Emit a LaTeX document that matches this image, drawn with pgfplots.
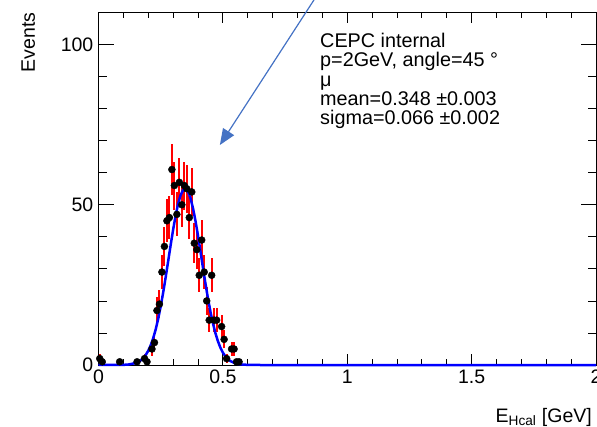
\documentclass[border=0pt]{standalone}
\usepackage{pgfplots}
\usepackage{pgfplotstable}
\pgfplotsset{compat=1.18}
\usepackage{fontspec}
\setmainfont{Liberation Sans}
\usetikzlibrary{arrows.meta}
\definecolor{arrowblue}{RGB}{68,114,196}

\pgfplotstableread{
x y e
0.005 2 1.41
0.015 1 1.00
0.085 1 1.00
0.155 1 1.00
0.185 2 1.41
0.195 1 1.00
0.215 5 2.24
0.225 7 2.65
0.235 17 4.12
0.245 19 4.36
0.255 29 5.39
0.265 37 6.08
0.275 45 6.71
0.285 46 6.78
0.295 61 7.81
0.305 56 7.48
0.315 47 6.86
0.325 57 7.55
0.335 50 7.07
0.345 56 7.48
0.355 55 7.42
0.365 46 6.78
0.375 54 7.35
0.385 38 6.16
0.395 36 6.00
0.405 28 5.29
0.415 39 6.24
0.425 29 5.39
0.435 20 4.47
0.445 14 3.74
0.455 28 5.29
0.465 14 3.74
0.475 14 3.74
0.495 12 3.46
0.505 8 2.83
0.515 2 1.41
0.535 5 2.24
0.545 5 2.24
0.555 1 1.00
0.565 1 1.00
}\datatable

\pgfplotstableread{
x y
0.00 0
0.10 0.05
0.12 0.14
0.15 0.61
0.16 0.95
0.17 1.45
0.18 2.16
0.19 3.13
0.20 4.45
0.21 6.18
0.22 8.39
0.23 11.13
0.24 14.42
0.25 18.27
0.26 22.61
0.27 27.36
0.28 32.35
0.29 37.38
0.30 42.22
0.31 46.60
0.32 50.26
0.33 52.99
0.34 54.60
0.348 55.00
0.35 54.97
0.36 54.10
0.37 52.03
0.38 48.90
0.39 44.92
0.40 40.33
0.41 35.38
0.42 30.34
0.43 25.42
0.44 20.82
0.45 16.66
0.46 13.04
0.47 9.96
0.48 7.44
0.49 5.43
0.50 3.88
0.51 2.71
0.52 1.84
0.53 1.23
0.55 0.51
0.57 0.19
0.60 0.04
0.65 0
2.00 0
}\fittable

\begin{document}
\begin{tikzpicture}
\begin{axis}[
  name=ax,
  scale only axis,
  width=497.5bp, height=352.5bp,
  xmin=0, xmax=2, ymin=0, ymax=110,
  xtick={0,0.5,1,1.5,2},
  xticklabels={0,0.5,1,1.5,2},
  ytick={0,50,100},
  yticklabels={0,50,100},
  minor x tick num=4,
  minor y tick num=4,
  tick align=inside,
  clip=false,
  axis line style={black, line width=0.8bp},
  every tick/.style={black, line width=0.8bp},
  every major x tick/.append style={/pgfplots/major tick length=11bp},
  every minor x tick/.append style={/pgfplots/minor tick length=6bp},
  every major y tick/.append style={/pgfplots/major tick length=15bp},
  every minor y tick/.append style={/pgfplots/minor tick length=8bp},
  major tick length=13bp,
  minor tick length=7bp,
  tick label style={font=\fontsize{19.5bp}{23bp}\selectfont},
  xticklabel style={inner sep=2bp, yshift=-3bp},
  yticklabel style={inner sep=2bp, xshift=-3bp},
  /pgf/number format/assume math mode=true,
]
\addplot[draw=none, mark=none, forget plot,
  error bars/.cd, y dir=both, y explicit,
  error mark=none,
  error bar style={draw=red, line width=2bp}]
  table[x=x, y=y, y error=e] {\datatable};
\addplot[only marks, mark=*, mark size=3.5bp, black, mark options={fill=black, draw=black}]
  table[x=x, y=y] {\datatable};
\addplot[blue, line width=2.5bp, line join=round, mark=none]
  table[x=x, y=y] {\fittable};

\draw[arrowblue, line width=1.2bp, -{Triangle[length=16bp,width=13bp]}]
  (axis cs:0.917,120) -- (axis cs:0.488,68.65);

\node[anchor=base west, inner sep=0pt, font=\fontsize{19.8bp}{23bp}\selectfont] at (axis cs:0.8905,99) {CEPC internal};
\node[anchor=base west, inner sep=0pt, font=\fontsize{19.8bp}{23bp}\selectfont] at (axis cs:0.8905,93) {p=2GeV, angle=45 °};
\node[anchor=base west, inner sep=0pt, font=\fontsize{19.8bp}{23bp}\selectfont] at (axis cs:0.8905,87) {μ};
\node[anchor=base west, inner sep=0pt, font=\fontsize{19.8bp}{23bp}\selectfont] at (axis cs:0.8905,81) {mean=0.348 ±0.003};
\node[anchor=base west, inner sep=0pt, font=\fontsize{19.8bp}{23bp}\selectfont] at (axis cs:0.8905,75) {sigma=0.066 ±0.002};
\end{axis}

\node[rotate=90, anchor=base east, inner sep=0pt, font=\fontsize{19.5bp}{23bp}\selectfont]
  at ([xshift=-63.5bp]ax.north west) {Events};
\node[anchor=base east, inner sep=0pt, font=\fontsize{19.5bp}{23bp}\selectfont]
  at ([xshift=-4bp, yshift=-57bp]ax.south east) {E\textsubscript{Hcal} [GeV]};

\pgfresetboundingbox
\path ([xshift=-98.5bp, yshift=-62bp]ax.south west) rectangle ([xshift=1bp, yshift=12.5bp]ax.north east);
\end{tikzpicture}
\end{document}
